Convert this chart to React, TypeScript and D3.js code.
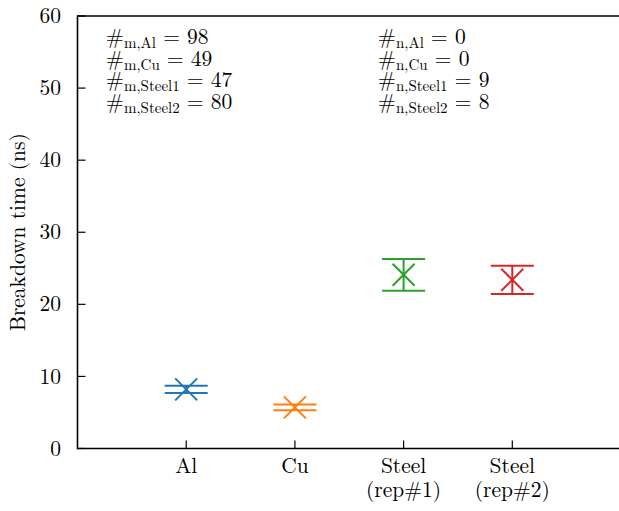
import React from "react";
import * as d3 from "d3";

const categories = ["Al", "Cu", "Steel\n(rep#1)", "Steel\n(rep#2)"];
const means = [8.2, 5.7, 24.1, 23.4];
const errors = [0.5, 0.4, 2.2, 1.95];
const colors = ["#1f77b4", "#ff7f0e", "#2ca02c", "#d62728"];
const yTicks = [0, 10, 20, 30, 40, 50, 60];
const mLabels = [["m,Al", "98"], ["m,Cu", "49"], ["m,Steel1", "47"], ["m,Steel2", "80"]];
const nLabels = [["n,Al", "0"], ["n,Cu", "0"], ["n,Steel1", "9"], ["n,Steel2", "8"]];

const W = 619, H = 511;
const left = 77.5, top = 16, bottom = 448.5, right = 621;
const FONT = '"Latin Modern Roman", "Liberation Serif", serif';
const FS = 21.5;
const SUB = 15;

export default function App() {
  const x = d3.scaleLinear().domain([0, 5]).range([left, right]);
  const y = d3.scaleLinear().domain([0, 60]).range([bottom, top]);
  const capHalf = 21.5;
  const mk = 11;
  return (
    <svg width={W} height={H} style={{ position: "absolute", left: 0, top: 0, fontFamily: FONT }}>
      <rect width={W} height={H} fill="#fff" />
      {/* spines */}
      <line x1={left} x2={right} y1={top} y2={top} stroke="#000" strokeWidth={1.6} />
      <line x1={left} x2={right} y1={bottom} y2={bottom} stroke="#000" strokeWidth={1.6} />
      <line x1={left} x2={left} y1={top - 0.8} y2={bottom + 0.8} stroke="#000" strokeWidth={1.6} />
      {/* y ticks */}
      {yTicks.map((t) => (
        <g key={t}>
          <line x1={left} x2={left + 8} y1={y(t)} y2={y(t)} stroke="#000" strokeWidth={1.2} />
          <text x={61} y={y(t)} dy="0.33em" textAnchor="end" fontSize={FS} style={{ fontFamily: FONT }}>{t}</text>
        </g>
      ))}
      {/* x ticks */}
      {categories.map((c, i) => {
        const lines = c.split("\n");
        return (
          <g key={c}>
            <line x1={x(i + 1)} x2={x(i + 1)} y1={bottom} y2={bottom - 8} stroke="#000" strokeWidth={1.2} />
            {lines.map((l, j) => (
              <text key={j} x={x(i + 1)} y={473 + j * 24} textAnchor="middle" fontSize={FS} style={{ fontFamily: FONT }}>{l}</text>
            ))}
          </g>
        );
      })}
      <text transform={`translate(25,${(top + bottom) / 2}) rotate(-90)`} textAnchor="middle" fontSize={FS} style={{ fontFamily: FONT }}>
        Breakdown time (ns)
      </text>
      {/* error bars */}
      {means.map((m, i) => {
        const cx = x(i + 1), cy = y(m);
        const yt = y(m + errors[i]), yb = y(m - errors[i]);
        const c = colors[i];
        return (
          <g key={i} stroke={c} strokeWidth={2} fill="none">
            <line x1={cx} x2={cx} y1={yt} y2={yb} />
            <line x1={cx - capHalf} x2={cx + capHalf} y1={yt} y2={yt} />
            <line x1={cx - capHalf} x2={cx + capHalf} y1={yb} y2={yb} />
            <line x1={cx - mk} x2={cx + mk} y1={cy - mk} y2={cy + mk} />
            <line x1={cx - mk} x2={cx + mk} y1={cy + mk} y2={cy - mk} />
          </g>
        );
      })}
      {/* annotations */}
      {mLabels.map((l, i) => (
        <text key={"m" + i} x={106} y={44 + i * 21.6} fontSize={FS} style={{ fontFamily: FONT }}>
          #<tspan fontSize={SUB} dy={4}>{l[0]}</tspan><tspan dy={-4}> = {l[1]}</tspan>
        </text>
      ))}
      {nLabels.map((l, i) => (
        <text key={"n" + i} x={378} y={44 + i * 21.6} fontSize={FS} style={{ fontFamily: FONT }}>
          #<tspan fontSize={SUB} dy={4}>{l[0]}</tspan><tspan dy={-4}> = {l[1]}</tspan>
        </text>
      ))}
    </svg>
  );
}
